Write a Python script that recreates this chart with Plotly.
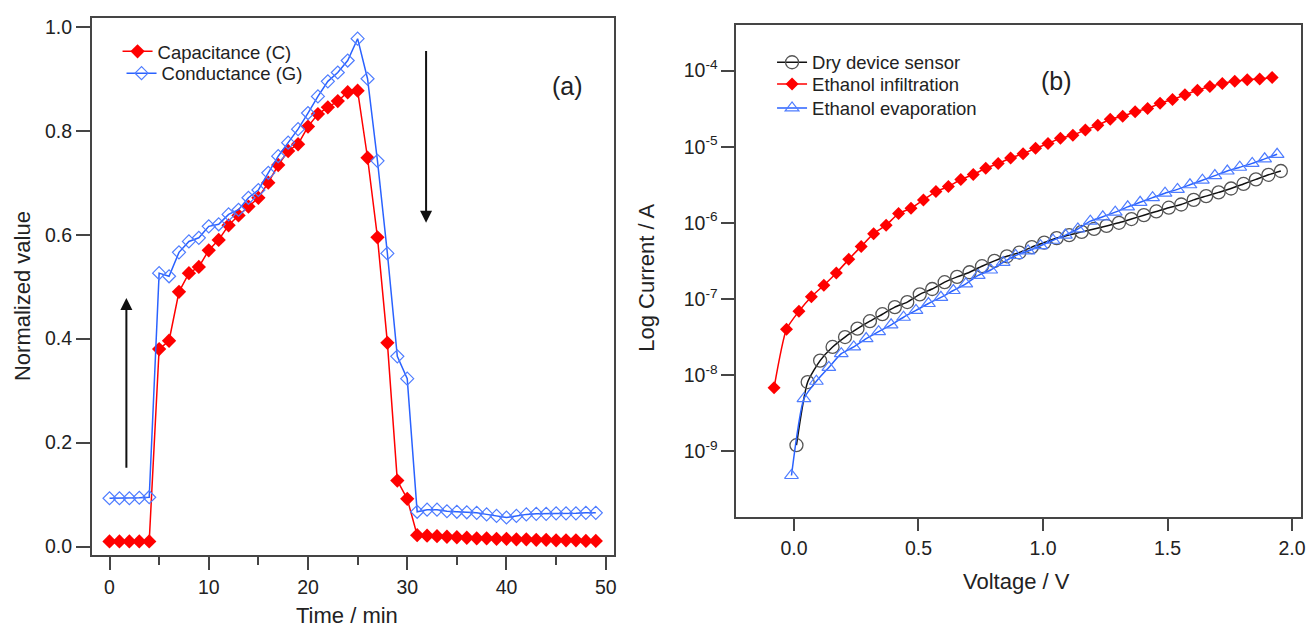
import plotly.graph_objects as go

# ---------- panel (a): normalized response vs time ----------
time_min = [0, 1, 2, 3, 4, 5, 6, 7, 8, 9, 10, 11, 12, 13, 14, 15, 16, 17, 18, 19,
            20, 21, 22, 23, 24, 25, 26, 27, 28, 29, 30, 31, 32, 33, 34, 35, 36, 37, 38, 39,
            40, 41, 42, 43, 44, 45, 46, 47, 48, 49]
capacitance = [0.010, 0.010, 0.010, 0.010, 0.010, 0.380, 0.396, 0.490, 0.526, 0.538,
               0.570, 0.590, 0.618, 0.637, 0.654, 0.671, 0.700, 0.734, 0.761, 0.774,
               0.808, 0.832, 0.845, 0.857, 0.874, 0.877, 0.748, 0.595, 0.392, 0.127,
               0.092, 0.022, 0.021, 0.020, 0.019, 0.018, 0.017, 0.016, 0.016, 0.015,
               0.015, 0.014, 0.014, 0.013, 0.013, 0.012, 0.012, 0.012, 0.011, 0.011]
conductance = [0.093, 0.093, 0.093, 0.094, 0.095, 0.526, 0.520, 0.566, 0.587, 0.594,
               0.616, 0.620, 0.639, 0.648, 0.671, 0.686, 0.719, 0.751, 0.777, 0.803,
               0.834, 0.866, 0.895, 0.912, 0.935, 0.977, 0.900, 0.742, 0.564, 0.366,
               0.323, 0.067, 0.071, 0.071, 0.068, 0.067, 0.066, 0.065, 0.062, 0.059,
               0.056, 0.059, 0.062, 0.063, 0.063, 0.064, 0.064, 0.064, 0.065, 0.065]

# ---------- panel (b): I-V curves ----------
v_dry = [0.010, 0.055, 0.105, 0.155, 0.205, 0.255, 0.305, 0.355, 0.405, 0.455,
         0.505, 0.555, 0.605, 0.655, 0.705, 0.755, 0.805, 0.855, 0.905, 0.955,
         1.005, 1.055, 1.105, 1.155, 1.205, 1.255, 1.305, 1.355, 1.405, 1.455,
         1.505, 1.555, 1.605, 1.655, 1.705, 1.755, 1.805, 1.855, 1.905, 1.955]
i_dry = [1.2e-9, 8.1e-9, 1.55e-8, 2.34e-8, 3.16e-8, 4.07e-8, 5.1e-8, 6.3e-8, 7.8e-8, 9.1e-8,
         1.15e-7, 1.35e-7, 1.66e-7, 1.95e-7, 2.24e-7, 2.69e-7, 3.16e-7, 3.63e-7, 4.07e-7, 4.79e-7,
         5.5e-7, 6.3e-7, 6.9e-7, 7.6e-7, 8.3e-7, 9.1e-7, 1.0e-6, 1.12e-6, 1.26e-6, 1.41e-6,
         1.58e-6, 1.74e-6, 2.0e-6, 2.24e-6, 2.51e-6, 2.82e-6, 3.24e-6, 3.72e-6, 4.27e-6, 4.79e-6]

v_infil = [-0.08, -0.03, 0.02, 0.07, 0.12, 0.17, 0.22, 0.27, 0.32, 0.37, 0.42,
           0.47, 0.52, 0.57, 0.62, 0.67, 0.72, 0.77, 0.82, 0.87, 0.92,
           0.97, 1.02, 1.07, 1.12, 1.17, 1.22, 1.27, 1.32, 1.37, 1.42,
           1.47, 1.52, 1.57, 1.62, 1.67, 1.72, 1.77, 1.82, 1.87, 1.92]
i_infil = [6.8e-9, 4.0e-8, 6.9e-8, 1.07e-7, 1.51e-7, 2.19e-7, 3.31e-7, 4.9e-7, 7.2e-7, 9.3e-7, 1.32e-6,
           1.55e-6, 2.0e-6, 2.57e-6, 3.0e-6, 3.7e-6, 4.3e-6, 5.2e-6, 6.0e-6, 7.1e-6, 8.1e-6,
           9.5e-6, 1.10e-5, 1.29e-5, 1.41e-5, 1.66e-5, 1.91e-5, 2.29e-5, 2.51e-5, 2.88e-5, 3.16e-5,
           3.72e-5, 4.17e-5, 4.79e-5, 5.5e-5, 6.17e-5, 6.76e-5, 7.24e-5, 7.59e-5, 7.76e-5, 8.13e-5]

v_evap = [-0.01, 0.04, 0.09, 0.14, 0.19, 0.24, 0.29, 0.34, 0.39, 0.44,
          0.49, 0.54, 0.59, 0.64, 0.69, 0.74, 0.79, 0.84, 0.89, 0.94,
          0.99, 1.04, 1.09, 1.14, 1.19, 1.24, 1.29, 1.34, 1.39, 1.44,
          1.49, 1.54, 1.59, 1.64, 1.69, 1.74, 1.79, 1.84, 1.89, 1.94]
i_evap = [4.8e-10, 4.9e-9, 8.3e-9, 1.26e-8, 1.91e-8, 2.34e-8, 3.02e-8, 3.72e-8, 4.57e-8, 5.75e-8,
          7.08e-8, 8.71e-8, 1.05e-7, 1.29e-7, 1.58e-7, 2.04e-7, 2.40e-7, 3.02e-7, 3.72e-7, 4.27e-7,
          5.0e-7, 5.9e-7, 6.9e-7, 8.3e-7, 1.05e-6, 1.20e-6, 1.38e-6, 1.62e-6, 1.86e-6, 2.14e-6,
          2.45e-6, 2.75e-6, 3.16e-6, 3.63e-6, 4.17e-6, 4.79e-6, 5.37e-6, 6.03e-6, 6.92e-6, 7.94e-6]

log_ticks = [1e-9, 1e-8, 1e-7, 1e-6, 1e-5, 1e-4]
log_labels = ["10<sup>-9</sup>", "10<sup>-8</sup>", "10<sup>-7</sup>",
              "10<sup>-6</sup>", "10<sup>-5</sup>", "10<sup>-4</sup>"]

RED = "#ff0000"
BLUE = "#2a62ff"
BLUE_MK = "#4f7dff"
FONT = "Liberation Sans, Arial, sans-serif"
INK = "#222222"
FRAME = "#454545"

fig = go.Figure()

fig.add_trace(go.Scatter(
    x=time_min, y=capacitance, name="Capacitance (C)", mode="lines+markers",
    line=dict(color=RED, width=1.5),
    marker=dict(symbol="diamond", size=11, color=RED),
    xaxis="x", yaxis="y", legend="legend"))
fig.add_trace(go.Scatter(
    x=time_min, y=conductance, name="Conductance (G)", mode="lines+markers",
    line=dict(color=BLUE, width=1.5),
    marker=dict(symbol="diamond-open", size=10, color=BLUE_MK, line=dict(width=1.2)),
    xaxis="x", yaxis="y", legend="legend2"))

fig.add_trace(go.Scatter(
    x=v_dry, y=i_dry, name="Dry device sensor", mode="lines+markers",
    line=dict(color="#111111", width=1.5, shape="spline", smoothing=0.6),
    marker=dict(symbol="circle-open", size=13, color="#555555", line=dict(width=1.3)),
    xaxis="x2", yaxis="y2", legend="legend3"))
fig.add_trace(go.Scatter(
    x=v_infil, y=i_infil, name="Ethanol infiltration", mode="lines+markers",
    line=dict(color=RED, width=1.5, shape="spline", smoothing=0.6),
    marker=dict(symbol="diamond", size=10, color=RED),
    xaxis="x2", yaxis="y2", legend="legend4"))
fig.add_trace(go.Scatter(
    x=v_evap, y=i_evap, name="Ethanol evaporation", mode="lines+markers",
    line=dict(color=BLUE, width=1.5, shape="spline", smoothing=0.6),
    marker=dict(symbol="triangle-up-open", size=12, color=BLUE_MK, line=dict(width=1.2)),
    xaxis="x2", yaxis="y2", legend="legend5"))

W, H = 1313, 627


def px(xp):
    return xp / W


def py(yp):
    return 1 - yp / H


axis_common = dict(
    showline=True, linecolor=FRAME, linewidth=1.5, mirror=True,
    ticks="outside", tickcolor=FRAME, tickwidth=1.5,
    showgrid=False, zeroline=False,
    tickfont=dict(family=FONT, size=19.5, color=INK),
)


def legend_at(xp, yp):
    # one legend entry per box so every row sits exactly where it belongs
    return dict(x=px(xp), y=py(yp), xanchor="left", yanchor="top",
                bgcolor="rgba(0,0,0,0)", borderwidth=0,
                font=dict(family=FONT, size=18.5, color=INK))


fig.update_layout(
    width=W, height=H,
    margin=dict(l=0, r=0, t=0, b=0),
    paper_bgcolor="white", plot_bgcolor="white",
    font=dict(family=FONT, size=18, color=INK),
    xaxis=dict(domain=[px(92), px(616)], range=[-1.8, 50.8], anchor="y",
               tickvals=[0, 10, 20, 30, 40, 50], ticklen=13,
               minor=dict(tickvals=[5, 15, 25, 35, 45], ticklen=8, ticks="outside",
                          tickcolor=FRAME, tickwidth=1.5),
               **axis_common),
    yaxis=dict(domain=[py(557), py(16)], range=[-0.017, 1.017], anchor="x",
               tickvals=[0.0, 0.2, 0.4, 0.6, 0.8, 1.0], tickformat=".1f", ticklen=14,
               **axis_common),
    xaxis2=dict(domain=[px(739), px(1306)], range=[-0.232, 2.036], anchor="y2",
                tickvals=[0.0, 0.5, 1.0, 1.5, 2.0], tickformat=".1f", ticklen=13,
                **axis_common),
    yaxis2=dict(domain=[py(518), py(23)], type="log", range=[-9.86, -3.40], anchor="x2",
                tickvals=log_ticks, ticktext=log_labels, ticklen=13,
                **axis_common),
    legend=legend_at(118, 31),
    legend2=legend_at(122, 53),
    legend3=legend_at(775, 42),
    legend4=legend_at(775, 64),
    legend5=legend_at(775, 88),
    showlegend=True,
)

title_font = dict(family=FONT, size=22, color=INK)
annotations = [
    dict(text="Normalized value", x=px(22), y=py(296), textangle=-90,
         xref="paper", yref="paper", showarrow=False, font=title_font,
         xanchor="center", yanchor="middle"),
    dict(text="Time / min", x=px(348), y=py(617), xref="paper", yref="paper",
         showarrow=False, font=title_font, xanchor="center", yanchor="middle"),
    dict(text="Log Current / A", x=px(649), y=py(278), textangle=-90,
         xref="paper", yref="paper", showarrow=False, font=title_font,
         xanchor="center", yanchor="middle"),
    dict(text="Voltage / V", x=px(1020), y=py(583), xref="paper", yref="paper",
         showarrow=False, font=title_font, xanchor="center", yanchor="middle"),
    dict(text="(a)", x=px(570), y=py(68), xref="paper", yref="paper",
         showarrow=False, font=dict(family=FONT, size=25, color=INK)),
    dict(text="(b)", x=px(1078), y=py(63), xref="paper", yref="paper",
         showarrow=False, font=dict(family=FONT, size=25, color=INK)),
    # rise / decay arrows in panel (a)
    dict(x=1.7, y=0.478, ax=1.7, ay=0.149, xref="x", yref="y", axref="x", ayref="y",
         showarrow=True, arrowhead=2, arrowsize=1.2, arrowwidth=2, arrowcolor="#111111",
         text=""),
    dict(x=31.9, y=0.623, ax=31.9, ay=0.956, xref="x", yref="y", axref="x", ayref="y",
         showarrow=True, arrowhead=2, arrowsize=1.2, arrowwidth=2, arrowcolor="#111111",
         text=""),
]
fig.update_layout(annotations=annotations)

fig.write_html("out.html")
